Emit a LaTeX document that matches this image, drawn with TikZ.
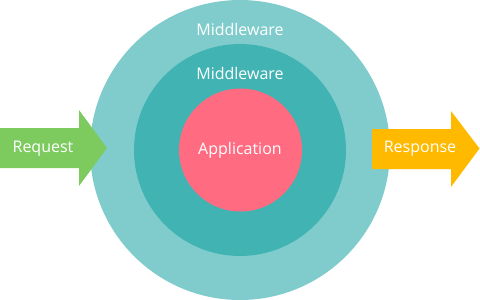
\documentclass[tikz,border=0pt]{standalone}
\usepackage{fontspec}
\setmainfont{Open Sans}
\definecolor{outerc}{HTML}{80CCCC}
\definecolor{midc}{HTML}{42B3B3}
\definecolor{appc}{HTML}{FF6B81}
\definecolor{reqc}{HTML}{7DCB5F}
\definecolor{resc}{HTML}{FFBA00}
\tikzset{
  ring/.style={circle, inner sep=0pt, draw=none},
  lbl/.style={text=white, font=\fontsize{16}{18}\selectfont, inner sep=0pt},
}
\begin{document}
\begin{tikzpicture}[x=1pt,y=-1pt]
\useasboundingbox (0,0) rectangle (480,300);
\node[ring, fill=outerc, minimum size=300pt] (outer) at (240,150) {};
\node[ring, fill=midc, minimum size=212pt] (mid) at (240,150) {};
\node[ring, fill=appc, minimum size=123pt] (app) at (240.5,150) {};
\node[lbl] (t1) at (240,29) {Middleware};
\node[lbl] (t2) at (240,73) {Middleware};
\node[lbl] (t3) at (240,150) {Application};
\fill[reqc] (0,128) -- (79,128) -- (79,110) -- (107,148) -- (79,186) -- (79,168) -- (0,168) -- cycle;
\fill[resc] (372,129) -- (451,129) -- (451,111) -- (479.5,148.5) -- (451,187) -- (451,169) -- (372,169) -- cycle;
\node[lbl] (req) at (43,149) {Request};
\node[lbl] (res) at (420,149) {Response};
\end{tikzpicture}
\end{document}
